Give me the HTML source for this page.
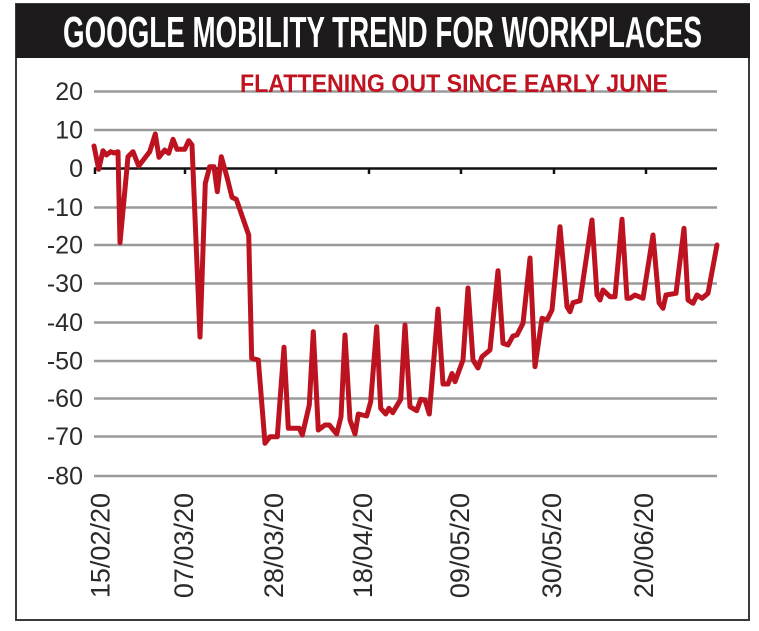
<!DOCTYPE html>
<html>
<head>
<meta charset="utf-8">
<style>
html,body{margin:0;padding:0;background:#fff;}
svg{display:block;}
</style>
</head>
<body>
<svg width="759" height="631" viewBox="0 0 759 631" xmlns="http://www.w3.org/2000/svg">
  <rect x="0" y="0" width="759" height="631" fill="#fff"/>
  <!-- frame -->
  <rect x="16" y="4" width="733" height="616" fill="#fff" stroke="#3a3a3a" stroke-width="2"/>
  <!-- header -->
  <rect x="16" y="4" width="734" height="54" fill="#1c1a1a"/>
  <text x="63" y="47" font-family="'Liberation Sans Narrow','Liberation Sans',sans-serif" font-weight="bold" font-size="44" fill="#fff" textLength="639" lengthAdjust="spacingAndGlyphs">GOOGLE MOBILITY TREND FOR WORKPLACES</text>

  <!-- gridlines -->
  <g stroke="#9a9a9a" stroke-width="2.5">
    <line x1="94" y1="91.5" x2="717" y2="91.5"/>
    <line x1="94" y1="130" x2="717" y2="130"/>
    <line x1="94" y1="207.5" x2="717" y2="207.5"/>
    <line x1="94" y1="245" x2="717" y2="245"/>
    <line x1="94" y1="283.5" x2="717" y2="283.5"/>
    <line x1="94" y1="322.5" x2="717" y2="322.5"/>
    <line x1="94" y1="361" x2="717" y2="361"/>
    <line x1="94" y1="398.5" x2="717" y2="398.5"/>
    <line x1="94" y1="436.5" x2="717" y2="436.5"/>
    <line x1="94" y1="476" x2="717" y2="476"/>
  </g>
  <!-- zero axis -->
  <g stroke="#111" stroke-width="2.5">
    <line x1="94" y1="168.5" x2="717" y2="168.5"/>
    <line x1="95" y1="168" x2="95" y2="174"/>
    <line x1="185" y1="168" x2="185" y2="174"/>
    <line x1="276" y1="168" x2="276" y2="174"/>
    <line x1="369" y1="168" x2="369" y2="174"/>
    <line x1="461" y1="168" x2="461" y2="174"/>
    <line x1="554" y1="168" x2="554" y2="174"/>
    <line x1="646" y1="168" x2="646" y2="174"/>
  </g>

  <!-- subtitle -->
  <text x="240" y="92" font-family="'Liberation Sans Narrow','Liberation Sans',sans-serif" font-weight="bold" font-size="25" fill="#bf1320" textLength="428" lengthAdjust="spacingAndGlyphs">FLATTENING OUT SINCE EARLY JUNE</text>

  <!-- y labels -->
  <g font-family="'Liberation Sans',sans-serif" font-size="25" fill="#2a2a2a" text-anchor="end">
    <text x="83" y="100">20</text>
    <text x="83" y="138.5">10</text>
    <text x="83" y="177">0</text>
    <text x="83" y="216">-10</text>
    <text x="83" y="253.5">-20</text>
    <text x="83" y="292">-30</text>
    <text x="83" y="331">-40</text>
    <text x="83" y="369.5">-50</text>
    <text x="83" y="407">-60</text>
    <text x="83" y="445">-70</text>
    <text x="83" y="484.5">-80</text>
  </g>

  <!-- x labels -->
  <g font-family="'Liberation Sans',sans-serif" font-size="27" fill="#2a2a2a" text-anchor="end">
    <text transform="translate(109.5,493) rotate(-90)">15/02/20</text>
    <text transform="translate(193,493) rotate(-90)">07/03/20</text>
    <text transform="translate(283,493) rotate(-90)">28/03/20</text>
    <text transform="translate(372,493) rotate(-90)">18/04/20</text>
    <text transform="translate(469,493) rotate(-90)">09/05/20</text>
    <text transform="translate(561,493) rotate(-90)">30/05/20</text>
    <text transform="translate(653,493) rotate(-90)">20/06/20</text>
  </g>

  <!-- series -->
  <polyline fill="none" stroke="#bd1320" stroke-width="5" stroke-linejoin="round" stroke-linecap="round"
    points="94,146 98.7,169.3 103,150.7 106.3,155 110.7,151.7 114,153 118,151.7 120,242.7 128,156.7 133,151.7 138.7,166 149.7,151.7 155.3,134 159,157.3 164.7,150 168.7,153.3 173,139.3 177,149.3 184.7,149.3 188.7,140.7 192,145 200,337 205.3,183.3 209.7,166.7 214,166.7 217.3,191.7 221.3,156.7 227.3,178.3 232,197.3 236.3,199.3 248.7,235 251.7,358.3 258.3,360 265,443.3 270,436.7 277.3,436.7 284,347.3 288.3,428.3 299.3,428.3 302.3,435 309.3,405 313.3,331.7 318.3,430 325,425 329.3,425 336.7,434 341,416.7 345,335 350,420 355,434 358.3,414 366.7,416 370.7,401.7 376.7,326.7 380.7,408.3 385.7,414 389,408.3 392.7,412.7 400.7,399.3 405,325 410,406.7 416.7,410.7 420.7,399.3 425,400 429.3,414 438,309 443,384 448,384 452,373.5 455,381.7 463,360 468,288 473,360 478,368 482,356.7 490,350 498,270.7 503,343.3 508,345 513,336 517,335 523,323.3 530,258 535,366.7 542,318.3 547,320 552,310 560,226.7 567,306.7 570,311.7 573,302.7 580,300.7 592,220 597,295 600,300 603,290 610,296.7 615,296.7 622,219.3 627,298.3 630,298.3 635,295 643,298.3 653,235 659,302.7 663,308.3 666,295 676,293.3 684,228.3 688,300 693,303.3 697,295 702,298.3 708,293.3 717,245"/>
</svg>
</body>
</html>
